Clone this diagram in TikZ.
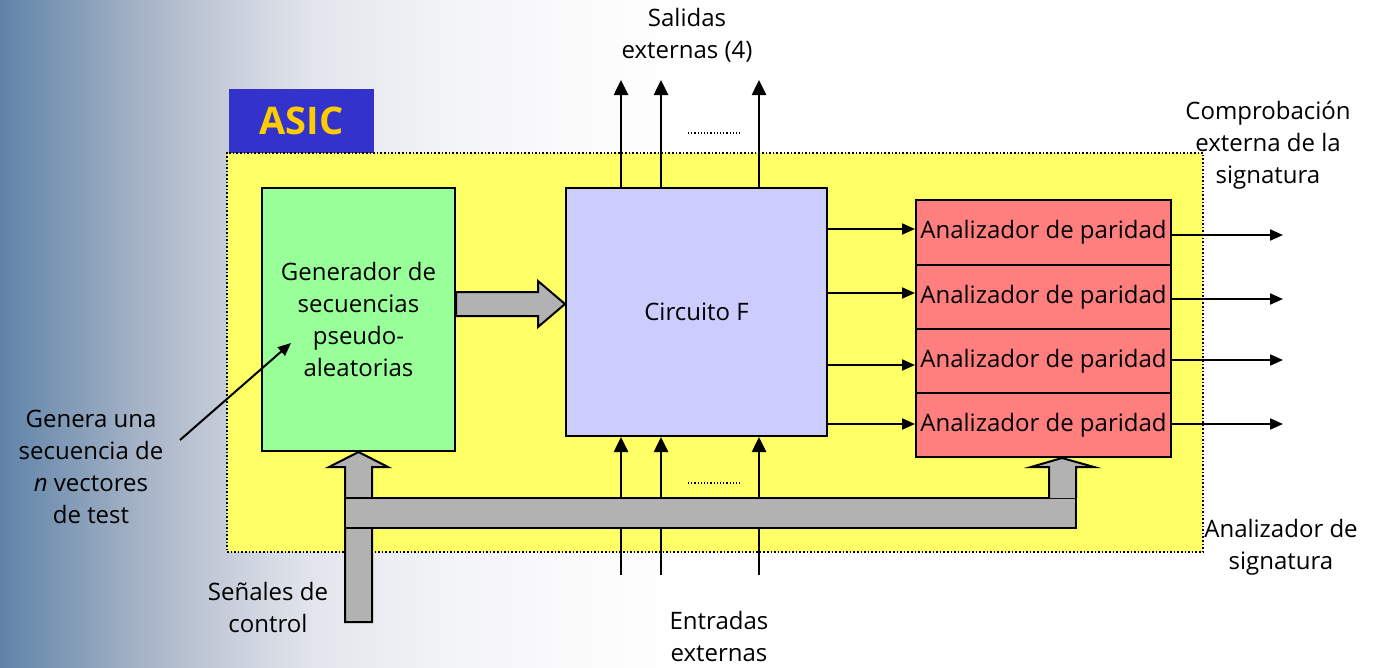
\documentclass[tikz,border=0pt]{standalone}
\usepackage{fontspec}
\setmainfont{Open Sans}
\usetikzlibrary{arrows.meta}
\definecolor{bgA}{RGB}{95,131,168}
\definecolor{bgB}{RGB}{163,177,197}
\definecolor{bgC}{RGB}{200,207,219}
\definecolor{bgD}{RGB}{226,229,236}
\definecolor{bgE}{RGB}{243,244,247}
\definecolor{bgF}{RGB}{251,251,252}
\definecolor{asicblue}{RGB}{51,51,204}
\definecolor{asicgold}{RGB}{255,204,0}
\definecolor{yel}{RGB}{255,255,102}
\definecolor{grn}{RGB}{153,255,153}
\definecolor{lav}{RGB}{204,204,255}
\definecolor{pink}{RGB}{255,127,127}
\definecolor{fatgray}{RGB}{178,178,178}
\pgfdeclarehorizontalshading{bgshade}{100bp}{color(0bp)=(bgA); color(25bp)=(bgA); color(29.84bp)=(bgB); color(33.32bp)=(bgC); color(36.28bp)=(bgD); color(41.12bp)=(bgE); color(45.97bp)=(bgF); color(50.3bp)=(white); color(100bp)=(white)}
\tikzset{
  txt/.style={font=\fontsize{24}{32}\selectfont, align=center, inner sep=0pt},
  blk/.style={draw=black, line width=2pt, inner sep=0pt, font=\fontsize{24}{32}\selectfont, align=center},
  sig/.style={line width=2.6pt, -{Triangle[length=15pt,width=14pt]}},
  thin/.style={line width=2pt, -{Triangle[length=13pt,width=11pt]}},
  fat/.style={draw=black, line width=2pt, fill=fatgray, line join=miter},
}
\begin{document}
\begin{tikzpicture}[x=1pt,y=-1pt]
\useasboundingbox (0,0) rectangle (1383,667);
\shade[shading=bgshade] (0,0) rectangle (1383,667);
% ASIC
\node[fill=asicblue, minimum width=145pt, minimum height=64pt, inner sep=0pt, text=asicgold, font=\fontsize{38}{40}\selectfont\bfseries] (asic) at (301.5,121) {ASIC};
\node[fill=yel, draw=black, dotted, line width=1.6pt, minimum width=976pt, minimum height=399pt, inner sep=0pt] (chip) at (715,352.5) {};
% blocks
\node[blk, fill=grn, minimum width=193pt, minimum height=263pt] (gen) at (358.5,319.5) {Generador de\\secuencias\\pseudo-\\aleatorias};
\node[blk, fill=lav, minimum width=261pt, minimum height=248pt] (circ) at (696.5,312) {Circuito F};
\node[blk, fill=pink, minimum width=255pt, minimum height=65pt] (a1) at (1043.5,232.5) {Analizador de paridad};
\node[blk, fill=pink, minimum width=255pt, minimum height=64pt] (a2) at (1043.5,297) {Analizador de paridad};
\node[blk, fill=pink, minimum width=255pt, minimum height=64pt] (a3) at (1043.5,361) {Analizador de paridad};
\node[blk, fill=pink, minimum width=255pt, minimum height=64pt] (a4) at (1043.5,425) {Analizador de paridad};
% labels
\node[txt] (sal) at (687,35) {Salidas\\externas (4)};
\node[txt] (ent) at (719,636) {Entradas\\externas};
\node[txt] (comp) at (1268,145) {Comprobación\\externa de la\\signatura};
\node[txt] (asig) at (1281,547) {Analizador de\\signatura};
\node[txt] (gena) at (91,467) {Genera una\\secuencia de\\\textit{n} vectores\\de test};
\node[txt] (senal) at (268,607.5) {Señales de\\control};
% dots
\node[inner sep=0pt] (dtop) at (715,133) {};
\node[inner sep=0pt] (dbot) at (715,483) {};
\draw[line width=1.2pt, dotted] ([xshift=-27pt]dtop.center) -- ([xshift=27pt]dtop.center);
\draw[line width=1.2pt, dotted] ([xshift=-27pt]dbot.center) -- ([xshift=27pt]dbot.center);
% top outputs
\coordinate (o1) at (621,80);
\coordinate (o2) at (661,80);
\coordinate (o3) at (759,80);
\foreach \c in {o1,o2,o3} \draw[sig] (circ.north -| \c) -- (\c);
% bottom inputs
\coordinate (i1) at (621,575);
\coordinate (i2) at (661,575);
\coordinate (i3) at (759,575);
\foreach \c in {i1,i2,i3} \draw[sig] (\c) -- (circ.south -| \c);
% circuit -> analyzers
\draw[thin] (circ.east |- 0,229) -- (a1.west |- 0,229);
\draw[thin] (circ.east |- 0,293) -- (a2.west |- 0,293);
\draw[thin] (circ.east |- 0,365) -- (a3.west |- 0,365);
\draw[thin] (circ.east |- 0,424) -- (a4.west |- 0,424);
% analyzer outputs
\coordinate (e1) at (1283,235);
\coordinate (e2) at (1283,299);
\coordinate (e3) at (1283,360);
\coordinate (e4) at (1283,424);
\draw[thin] (a1.east |- e1) -- (e1);
\draw[thin] (a2.east |- e2) -- (e2);
\draw[thin] (a3.east |- e3) -- (e3);
\draw[thin] (a4.east |- e4) -- (e4);
% genera arrow
\coordinate (gstart) at (180,440);
\draw[thin] (gstart) -- (291,343);
% fat arrows
\draw[fat] (gen.east |- 0,292) -- (538,292) -- (538,281) -- (circ.west |- 0,304) -- (538,327) -- (538,316) -- (gen.east |- 0,316) -- cycle;
\draw[fat] (345,622) -- (345,467) -- (329,467) -- (gen.south) -- (388,467) -- (372,467) -- (372,622) -- cycle;
\draw[fat] (345,498) rectangle (1076,528);
\draw[fat] (1049,498) -- (1049,467) -- (1031,467) -- (a4.south -| 1062,0) -- (1094,467) -- (1076,467) -- (1076,498);
\end{tikzpicture}
\end{document}
